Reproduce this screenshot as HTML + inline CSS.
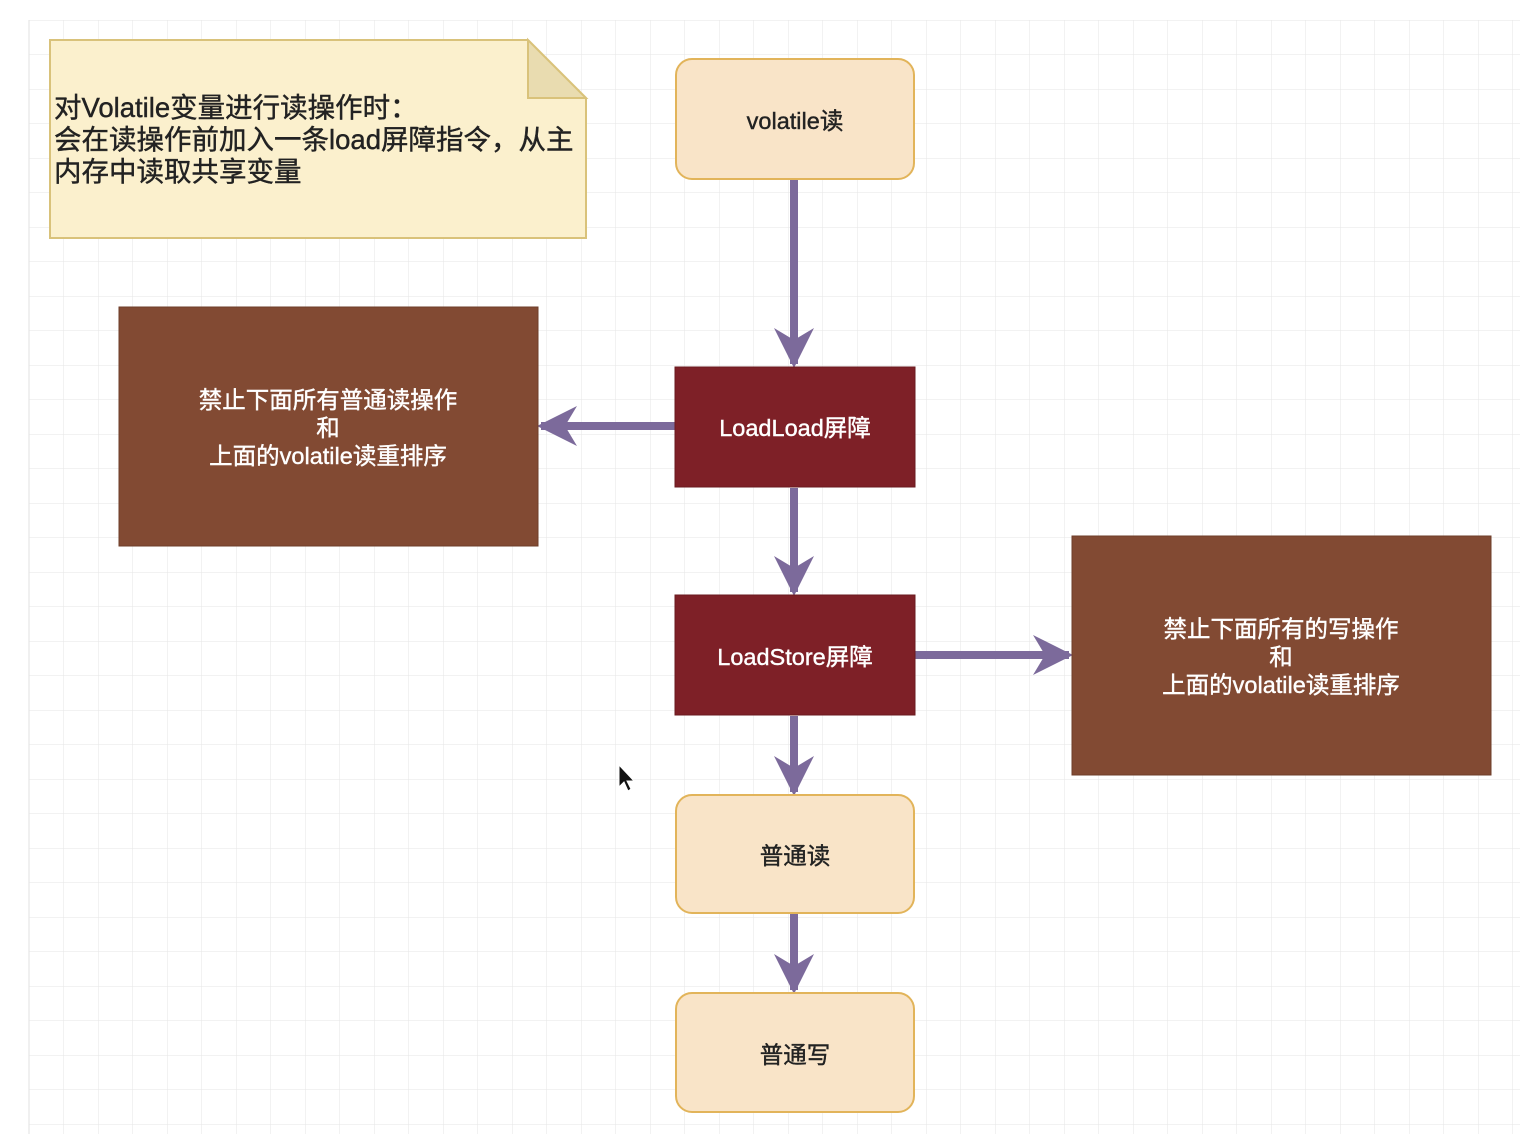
<!DOCTYPE html>
<html><head><meta charset="utf-8"><style>
html,body{margin:0;padding:0;background:#fff;}
svg{display:block;}
text{font-family:"Liberation Sans","Noto Sans CJK SC",sans-serif;}
</style></head><body>
<svg width="1530" height="1134" xmlns="http://www.w3.org/2000/svg">
<defs>
<pattern id="g" x="29" y="20" width="34.5" height="34.5" patternUnits="userSpaceOnUse">
<path d="M0 0V34.5M0 0H34.5" stroke="#e6e6e6" stroke-width="1" fill="none"/>
</pattern>
<marker id="a" viewBox="0 0 10 10" refX="9" refY="5" markerWidth="5" markerHeight="5" orient="auto" markerUnits="strokeWidth">
<path d="M0 0L10 5L0 10L3 5Z" fill="#7c6a9b"/>
</marker>
</defs>
<rect x="29" y="20" width="1491" height="1114" fill="url(#g)"/>
<line x1="29" y1="20" x2="29" y2="1134" stroke="#e2e2e2"/>
<path d="M50 40H528L586 98V238H50Z" fill="#fbf0cd" stroke="#d9c27a" stroke-width="2"/>
<path d="M528 40V98H586Z" fill="#e9dcb0" stroke="#d9c27a" stroke-width="2"/>
<g font-size="27.5" fill="#222" stroke="#222" stroke-width="0.4">
<text x="54" y="117">对Volatile变量进行读操作时：</text>
<text x="54" y="149">会在读操作前加入一条load屏障指令，从主</text>
<text x="54" y="181">内存中读取共享变量</text>
</g>
<g stroke="#7c6a9b" stroke-width="8" fill="none" marker-end="url(#a)">
<line x1="794" y1="180" x2="794" y2="364"/>
<line x1="675" y1="426" x2="541" y2="426"/>
<line x1="794" y1="488" x2="794" y2="592"/>
<line x1="915" y1="655" x2="1069" y2="655"/>
<line x1="794" y1="716" x2="794" y2="792"/>
<line x1="794" y1="914" x2="794" y2="990"/>
</g>
<rect x="676" y="59" width="238" height="120" rx="16" fill="#f9e4c8" stroke="#e2b45a" stroke-width="2"/>
<rect x="675" y="367" width="240" height="120" fill="#7e2027" stroke="#6a1a1f"/>
<rect x="675" y="595" width="240" height="120" fill="#7e2027" stroke="#6a1a1f"/>
<rect x="119" y="307" width="419" height="239" fill="#824a33" stroke="#6e3d2a"/>
<rect x="1072" y="536" width="419" height="239" fill="#824a33" stroke="#6e3d2a"/>
<rect x="676" y="795" width="238" height="118" rx="16" fill="#f9e4c8" stroke="#e2b45a" stroke-width="2"/>
<rect x="676" y="993" width="238" height="119" rx="16" fill="#f9e4c8" stroke="#e2b45a" stroke-width="2"/>
<g font-size="23.5" text-anchor="middle" stroke-width="0.4">
<text x="795" y="129" fill="#222" stroke="#222">volatile读</text>
<text x="795" y="436" fill="#fff" stroke="#fff">LoadLoad屏障</text>
<text x="795" y="665" fill="#fff" stroke="#fff">LoadStore屏障</text>
<text x="328" y="408" fill="#fff" stroke="#fff">禁止下面所有普通读操作</text>
<text x="328" y="436" fill="#fff" stroke="#fff">和</text>
<text x="328" y="464" fill="#fff" stroke="#fff">上面的volatile读重排序</text>
<text x="1281" y="637" fill="#fff" stroke="#fff">禁止下面所有的写操作</text>
<text x="1281" y="665" fill="#fff" stroke="#fff">和</text>
<text x="1281" y="693" fill="#fff" stroke="#fff">上面的volatile读重排序</text>
<text x="795" y="864" fill="#222" stroke="#222">普通读</text>
<text x="795" y="1063" fill="#222" stroke="#222">普通写</text>
</g>
<path d="M619 765L619 787L624 782L628 791L631 789L627 781L634 781Z" fill="#111" stroke="#fff" stroke-width="1"/>
</svg>
</body></html>
